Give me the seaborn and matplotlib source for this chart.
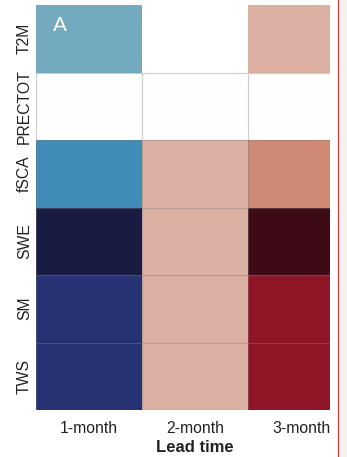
import numpy as np
import pandas as pd
import matplotlib
matplotlib.use("Agg")
import matplotlib.pyplot as plt
from matplotlib.colors import LinearSegmentedColormap
from matplotlib.patches import Rectangle
from matplotlib.lines import Line2D
import seaborn as sns

variables = ["T2M", "PRECTOT", "fSCA", "SWE", "SM", "TWS"]
lead_times = ["1-month", "2-month", "3-month"]
lead_1 = [-0.30, 0.0, -0.45, -1.00, -0.75, -0.75]
lead_2 = [np.nan, 0.0, 0.30, 0.30, 0.30, 0.30]
lead_3 = [0.30, 0.0, 0.45, 1.00, 0.75, 0.75]

df = pd.DataFrame({"1-month": lead_1, "2-month": lead_2, "3-month": lead_3},
                  index=variables)

cmap = LinearSegmentedColormap.from_list("balance_like", [
    (0.000, "#181c43"),
    (0.125, "#263273"),
    (0.275, "#3f8db8"),
    (0.350, "#74aabf"),
    (0.500, "#ffffff"),
    (0.650, "#dbb0a3"),
    (0.725, "#d08a74"),
    (0.875, "#921528"),
    (1.000, "#3e0a15"),
])

sns.set_theme(style="white")
plt.rcParams["font.family"] = ["Liberation Sans", "DejaVu Sans"]

W, H = 347, 457
fig = plt.figure(figsize=(W / 100, H / 100), dpi=100)
ax = fig.add_axes([36 / W, 47 / H, 318 / W, 405 / H])

sns.heatmap(df, ax=ax, cmap=cmap, vmin=-1, vmax=1, cbar=False, linewidths=0)

# thin cell borders (absent around the top row in the reference)
nrow, ncol = df.shape
grid_kw = dict(colors=[(0.5, 0.5, 0.5, 0.38)], linewidths=0.8, zorder=3)
ax.hlines(np.arange(1, nrow + 1), 0, ncol, **grid_kw)
ax.vlines(np.arange(0, ncol + 1), 1, nrow, **grid_kw)
ax.set_xlim(0, ncol)
ax.set_ylim(nrow, 0)

ax.set_yticklabels(variables, rotation=90, va="center", fontsize=11.3, color="#222222")
ax.set_xticklabels(lead_times, rotation=0, fontsize=11.3, color="#222222")
ax.tick_params(axis="both", length=0)
ax.tick_params(axis="y", pad=3)
ax.tick_params(axis="x", pad=8)
ax.set_xlabel("Lead time", fontsize=12, fontweight="bold", color="#222222", labelpad=3)
ax.set_ylabel("")

ax.text(0.23, 0.31, "A", color="white", fontsize=15, ha="center", va="center")

# right-hand cropping artefact of the reference screenshot
fig.add_artist(Rectangle((330 / W, 0), 17 / W, 1, transform=fig.transFigure,
                         facecolor="white", edgecolor="none", zorder=10))
fig.add_artist(Rectangle((338 / W, 0), 9 / W, 1, transform=fig.transFigure,
                         facecolor="#f2f2f2", edgecolor="none", zorder=11))
fig.add_artist(Line2D([337.5 / W, 337.5 / W], [0, 1], transform=fig.transFigure,
                      color="#cc3b3b", linewidth=0.9, zorder=12))

fig.savefig("out.png", dpi=100)
